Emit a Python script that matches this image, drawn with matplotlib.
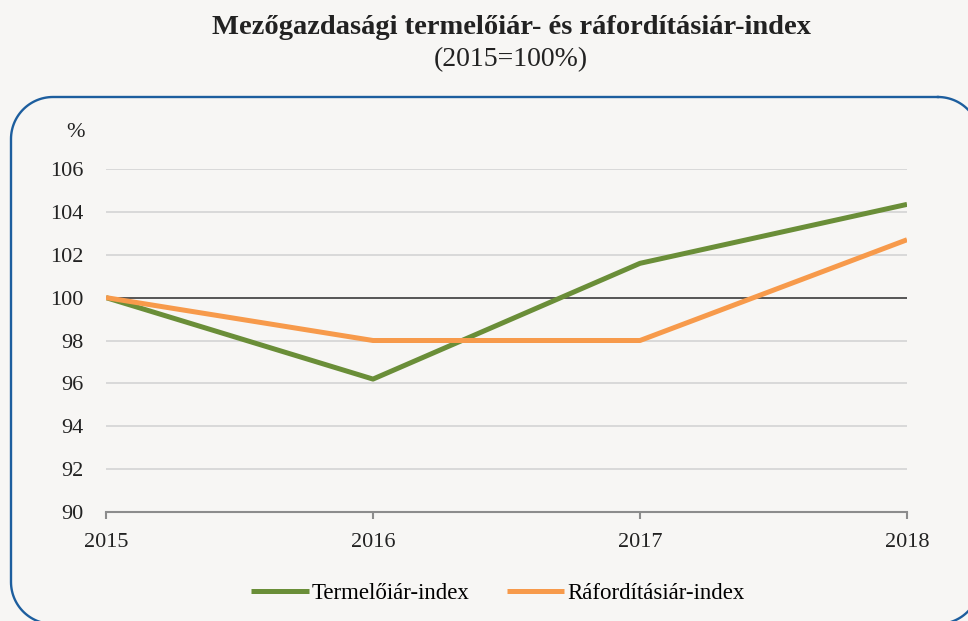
import numpy as np
import matplotlib.pyplot as plt
from matplotlib.lines import Line2D

# ----------------------------
# data
# ----------------------------
years = [2015, 2016, 2017, 2018]
termeloi = [100.0, 96.2, 101.6, 104.35]
raforditasi = [100.0, 98.0, 98.0, 102.7]
yticks = [90, 92, 94, 96, 98, 100, 102, 104, 106]

BG = "#f7f6f4"
GREEN = "#6a8e38"
ORANGE = "#f79a4b"
BORDER = "#1d5e9e"

plt.rcParams["font.family"] = ["Liberation Serif", "DejaVu Serif"]

W, H = 968, 621
fig = plt.figure(figsize=(W / 100, H / 100), dpi=100, facecolor=BG)


# rounded frame, built in pixel coords (y down) then mapped to figure fraction
def rounded_rect(x0, y0, x1, y1, r, n=30):
    pts = []
    corners = [(x1 - r, y0 + r, -90, 0), (x1 - r, y1 - r, 0, 90),
               (x0 + r, y1 - r, 90, 180), (x0 + r, y0 + r, 180, 270)]
    for cx, cy, a0, a1 in corners:
        t = np.deg2rad(np.linspace(a0, a1, n))
        pts.append(np.column_stack([cx + r * np.cos(t), cy + r * np.sin(t)]))
    pts = np.vstack(pts + [pts[0][:1]])
    return pts[:, 0] / W, 1 - pts[:, 1] / H


fx, fy = rounded_rect(11, 97, 980, 624, 42)
fig.add_artist(Line2D(fx, fy, color=BORDER, linewidth=1.7,
                      transform=fig.transFigure))

fig.text(511 / W, 1 - 27 / H, "Mezőgazdasági termelőiár- és ráfordításiár-index",
         ha="center", va="center", fontsize=20.5, fontweight="bold", color="#222222")
fig.text(511 / W, 1 - 60 / H, "(2015=100%)", ha="center", va="center",
         fontsize=20, color="#222222")

ax = fig.add_axes([106 / W, 1 - 512 / H, (907 - 106) / W, (512 - 169) / H])
ax.set_facecolor("none")

for y in yticks[1:]:
    ax.axhline(y, color="#d4d4d4", linewidth=1.2, zorder=1)
ax.axhline(100, color="#333333", linewidth=1.1, zorder=2)

ax.plot(years, termeloi, color=GREEN, linewidth=3.6, zorder=3,
        label="Termelőiár-index", solid_capstyle="butt")
ax.plot(years, raforditasi, color=ORANGE, linewidth=3.6, zorder=3,
        label="Ráfordításiár-index", solid_capstyle="butt")

ax.set_xlim(2015, 2018)
ax.set_ylim(90, 106)
ax.set_xticks(years)
ax.set_xticklabels([str(y) for y in years])
ax.set_yticks(yticks)

for s in ["top", "right", "left"]:
    ax.spines[s].set_visible(False)
ax.spines["bottom"].set_color("#8c8c8c")
ax.spines["bottom"].set_linewidth(1.5)
ax.tick_params(axis="x", colors="#8c8c8c", length=5, width=1.5,
               labelcolor="#222222", labelsize=16, pad=10)
ax.tick_params(axis="y", length=0, labelsize=16, labelcolor="#222222", pad=16)

ax.text(-0.038, 1.105, "%", transform=ax.transAxes, ha="center", va="center",
        fontsize=16, color="#222222")

fig.legend(loc="center", bbox_to_anchor=(498 / W, 1 - 593 / H), ncol=2,
           frameon=False, fontsize=16.5, handlelength=2.5, handletextpad=0.15,
           columnspacing=1.6)

fig.savefig("out.png", dpi=100, facecolor=BG)
